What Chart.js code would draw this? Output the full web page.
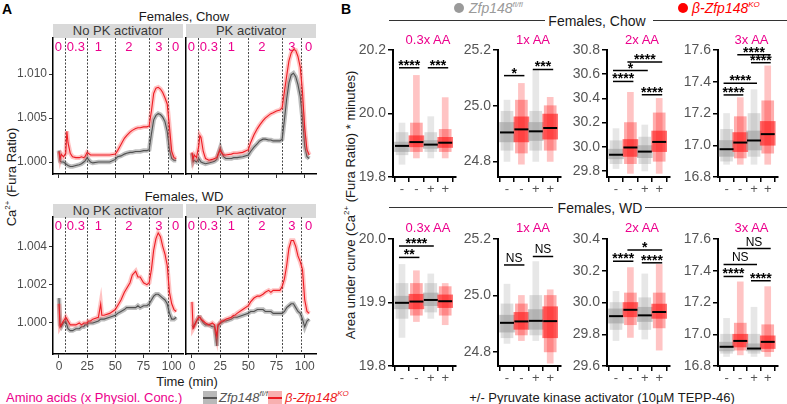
<!DOCTYPE html>
<html><head><meta charset="utf-8">
<script src="https://cdn.jsdelivr.net/npm/chart.js@4.4.1/dist/chart.umd.min.js"></script>
<style>
html,body{margin:0;padding:0;background:#fff}
#root{position:relative;width:787px;height:404px;overflow:hidden;font-family:"Liberation Sans",Arial,Helvetica,sans-serif}
#root canvas{position:absolute}
.t{position:absolute;white-space:nowrap;line-height:1}
.c{transform:translate(-50%,-50%)}
.strip{position:absolute;background:#d9d9d9;color:#3a3a3a;font-size:13px;text-align:center;line-height:14px;height:14px}
.hl{position:absolute;height:0;border-top:1.5px solid #333}
.mag{color:#ec008c}
sup{font-size:8px;vertical-align:6px;line-height:0}
.dot{position:absolute;width:10px;height:10px;border-radius:50%}
.key{position:absolute;width:14px;height:13px}
.key i{position:absolute;left:0;right:0;top:6px;height:1.5px}
</style></head><body><div id="root">
<div class="t" style="left:2px;top:2px;font-size:14px;font-weight:bold">A</div>
<div class="t" style="left:341px;top:2px;font-size:14px;font-weight:bold">B</div>

<div class="t c" style="left:184px;top:16px;font-size:13px;color:#1a1a1a">Females, Chow</div>
<div class="strip" style="left:53px;top:24px;width:130px">No PK activator</div>
<div class="strip" style="left:186px;top:24px;width:130px">PK activator</div>
<div class="t c" style="left:184px;top:196px;font-size:13px;color:#1a1a1a">Females, WD</div>
<div class="strip" style="left:53px;top:204px;width:130px">No PK activator</div>
<div class="strip" style="left:186px;top:204px;width:130px">PK activator</div>
<div class="t c" style="left:11px;top:177px;font-size:13px;color:#1a1a1a;transform:translate(-50%,-50%) rotate(-90deg)">Ca<sup>2+</sup> (Fura Ratio)</div>
<div class="t c" style="left:187px;top:381px;font-size:13px;color:#1a1a1a">Time (min)</div>
<div class="t mag" style="left:6px;top:391px;font-size:13px">Amino acids (x Physiol. Conc.)</div>
<div class="key" style="left:203px;top:391px;background:#b9b9b9"><i style="background:#555"></i></div>
<div class="t" style="left:219px;top:391px;font-size:13px;color:#555;font-style:italic">Zfp148<sup>fl/fl</sup></div>
<div class="key" style="left:268px;top:391px;background:#f8b0b0"><i style="background:#ed1c24"></i></div>
<div class="t" style="left:285px;top:391px;font-size:13px;color:#ed1c24;font-style:italic">β-Zfp148<sup>KO</sup></div>

<div class="dot" style="left:454px;top:3px;background:#9a9a9a"></div>
<div class="t" style="left:469px;top:1px;font-size:14px;color:#9a9a9a;font-style:italic">Zfp148<sup>fl/fl</sup></div>
<div class="dot" style="left:678px;top:3px;background:#f00"></div>
<div class="t" style="left:692px;top:1px;font-size:14px;color:#f00;font-style:italic">β-Zfp148<sup>KO</sup></div>
<div class="hl" style="left:389px;top:20px;width:156px"></div>
<div class="t c" style="left:597px;top:21px;font-size:14px;color:#1a1a1a">Females, Chow</div>
<div class="hl" style="left:653px;top:20px;width:134px"></div>
<div class="hl" style="left:389px;top:207px;width:164px"></div>
<div class="t c" style="left:600px;top:208px;font-size:14px;color:#1a1a1a">Females, WD</div>
<div class="hl" style="left:645px;top:207px;width:142px"></div>
<div class="t c" style="left:350px;top:205px;font-size:13px;color:#1a1a1a;transform:translate(-50%,-50%) rotate(-90deg)">Area under curve (Ca<sup>2+</sup> (Fura Ratio) * minutes)</div>
<div class="t c" style="left:602px;top:397px;font-size:13px;color:#1a1a1a">+/- Pyruvate kinase activator (10µM TEPP-46)</div>
</div>
<script>
// ---------- Panel A data (time in min, Fura ratio) ----------
const tA = [0,1,2,4,6,7,8,10,12,15,18,20,22,23,25,26,28,30,35,37,38,40,45,50,52,55,58,60,63,65,68,70,72,75,78,80,82,84,86,88,90,92,94,96,98,100,102,104];
const chowNoPK_KO = [1.0012,1.0004,1.0009,1.0006,1.0010,1.0035,1.0022,1.0010,1.0006,1.0005,1.0005,1.0006,1.0005,1.0006,1.0011,1.0010,1.0008,1.0008,1.0008,1.0008,1.0008,1.0008,1.0008,1.0009,1.0013,1.0020,1.0027,1.0030,1.0034,1.0036,1.0038,1.0039,1.0039,1.0040,1.0040,1.0041,1.0058,1.0078,1.0084,1.0085,1.0083,1.0079,1.0073,1.0066,1.0040,1.0012,1.0005,1.0004];
const chowNoPK_WT = [1.0013,1.0001,1.0000,1.0000,0.9998,0.9997,0.9996,0.9995,0.9995,0.9996,0.9997,0.9998,1.0000,1.0001,1.0005,1.0003,1.0000,0.9999,1.0000,1.0000,1.0000,1.0000,1.0000,1.0003,1.0006,1.0007,1.0009,1.0010,1.0011,1.0011,1.0012,1.0012,1.0012,1.0013,1.0013,1.0014,1.0032,1.0048,1.0053,1.0055,1.0054,1.0051,1.0046,1.0035,1.0014,1.0004,1.0002,1.0002];
const chowPK_KO = [1.0011,1.0003,1.0008,1.0005,1.0018,1.0030,1.0028,1.0012,1.0004,1.0002,1.0003,1.0004,1.0005,1.0008,1.0014,1.0011,1.0008,1.0008,1.0009,1.0010,1.0010,1.0010,1.0011,1.0014,1.0022,1.0031,1.0038,1.0042,1.0047,1.0050,1.0053,1.0055,1.0056,1.0058,1.0059,1.0062,1.0080,1.0098,1.0115,1.0124,1.0128,1.0127,1.0120,1.0108,1.0080,1.0038,1.0014,1.0008];
const chowPK_WT = [1.0010,1.0000,1.0002,1.0000,1.0004,1.0002,1.0000,0.9999,0.9998,0.9999,1.0000,1.0001,1.0003,1.0008,1.0016,1.0012,1.0006,1.0004,1.0004,1.0005,1.0005,1.0005,1.0006,1.0008,1.0012,1.0017,1.0021,1.0024,1.0026,1.0026,1.0025,1.0025,1.0024,1.0024,1.0024,1.0026,1.0048,1.0072,1.0090,1.0099,1.0101,1.0097,1.0088,1.0075,1.0050,1.0018,1.0006,1.0004];
const wdNoPK_KO = [1.0010,0.9998,0.9999,1.0001,1.0003,1.0002,1.0001,0.9999,0.9999,0.9999,1.0000,0.9999,1.0000,1.0000,1.0000,1.0001,1.0001,1.0002,1.0003,1.0010,1.0004,1.0004,1.0005,1.0007,1.0009,1.0012,1.0016,1.0018,1.0021,1.0025,1.0027,1.0024,1.0024,1.0021,1.0020,1.0021,1.0028,1.0038,1.0044,1.0047,1.0045,1.0040,1.0036,1.0030,1.0016,1.0010,1.0007,1.0006];
const wdNoPK_WT = [1.0013,0.9999,0.9998,1.0000,1.0001,0.9999,0.9997,0.9996,0.9996,0.9997,0.9997,0.9998,0.9998,0.9999,0.9999,1.0000,1.0000,1.0000,1.0001,1.0002,1.0002,1.0002,1.0003,1.0004,1.0005,1.0006,1.0007,1.0008,1.0008,1.0008,1.0008,1.0009,1.0008,1.0009,1.0009,1.0010,1.0012,1.0014,1.0015,1.0015,1.0014,1.0013,1.0012,1.0010,1.0005,1.0002,1.0002,1.0003];
const wdPK_KO = [1.0011,0.9997,0.9998,1.0001,1.0003,1.0003,1.0002,1.0001,1.0000,0.9999,1.0000,0.9999,0.9993,0.9999,1.0000,1.0001,1.0001,1.0002,1.0003,1.0004,1.0004,1.0005,1.0007,1.0009,1.0011,1.0013,1.0014,1.0014,1.0015,1.0016,1.0017,1.0016,1.0017,1.0017,1.0017,1.0019,1.0023,1.0030,1.0039,1.0043,1.0043,1.0040,1.0035,1.0032,1.0028,1.0012,1.0006,1.0005];
const wdPK_WT = [0.9998,0.9998,0.9999,1.0001,1.0003,1.0003,1.0002,1.0000,0.9999,0.9999,0.9998,0.9998,0.9988,0.9998,1.0000,1.0000,1.0001,1.0001,1.0002,1.0003,1.0003,1.0003,1.0004,1.0005,1.0006,1.0006,1.0007,1.0007,1.0007,1.0006,1.0006,1.0006,1.0005,1.0005,1.0005,1.0005,1.0006,1.0008,1.0009,1.0010,1.0010,1.0008,1.0006,1.0005,1.0002,0.9998,1.0001,1.0002];
const aTicksX = [0,25,50,75,100];
const aTicksYChow = [1.000,1.005,1.010];
const aTicksYWD = [1.000,1.002,1.004];
const aRangeX = [-5.3,110];
const aRangeChow = [0.99864,1.0141];
const aRangeWD = [0.99838,1.00553];
const aaSwitchTimes = [5,25,50,80,97];
const aaLabelTimes = [-0.6,15,35,62,88.5,103.5];
const aaLabels = ['0','0.3','1','2','3','0'];

// ---------- Panel B data (AUC) ----------
const bTitles = ['0.3x AA','1x AA','2x AA','3x AA'];
const bGroupTicks = ['-','-','+','+'];
const bGroupIsKO = [false,true,false,true];
const bChowRange = [[19.8,20.2],[24.744,25.2],[29.75,30.8],[16.8,17.6]];
const bWDRange = [[19.8,20.0],[24.75,25.2],[29.6,30.4],[16.8,17.6]];
const bChowTicks = [[19.8,20.0,20.2],[24.8,25.0,25.2],[29.8,30.0,30.2,30.4,30.6,30.8],[16.8,17.0,17.2,17.4,17.6]];
const bWDTicks = [[19.8,19.9,20.0],[24.8,25.0,25.2],[29.6,29.8,30.0,30.2,30.4],[16.8,17.0,17.2,17.4,17.6]];
const bChowMedian = [[19.898,19.910,19.902,19.908],[24.904,24.915,24.908,24.920],[29.934,29.994,29.960,30.040],[16.975,17.017,17.030,17.070]];
const bWDMedian = [[19.8995,19.9015,19.904,19.902],[24.903,24.908,24.910,24.909],[29.914,29.954,29.919,29.940],[16.921,16.958,16.910,16.952]];
// spread of each swarm: min, 10th pct, 25th pct, 75th pct, 90th pct, max
const bChowMin = [[19.84,19.86,19.86,19.86],[24.80,24.79,24.80,24.80],[29.82,29.78,29.80,29.78],[16.88,16.88,16.88,16.88]];
const bChowP10 = [[19.87,19.88,19.88,19.88],[24.84,24.83,24.84,24.84],[29.86,29.86,29.86,29.88],[16.90,16.92,16.93,16.95]];
const bChowQ1 = [[19.88,19.895,19.89,19.893],[24.87,24.87,24.875,24.88],[29.90,29.92,29.91,29.96],[16.93,16.96,16.97,17.00]];
const bChowQ3 = [[19.91,19.93,19.915,19.925],[24.94,24.96,24.94,24.97],[29.98,30.06,30.01,30.13],[17.03,17.08,17.09,17.15]];
const bChowP90 = [[19.94,19.97,19.94,19.95],[24.98,25.02,24.98,25.00],[30.05,30.20,30.08,30.28],[17.10,17.18,17.20,17.28]];
const bChowMax = [[19.97,20.12,19.99,20.05],[25.02,25.08,25.13,25.03],[30.15,30.45,30.18,30.40],[17.20,17.30,17.35,17.50]];
const bWDMin = [[19.845,19.87,19.875,19.865],[24.83,24.84,24.84,24.76],[29.76,29.78,29.77,29.70],[16.86,16.87,16.86,16.86]];
const bWDP10 = [[19.875,19.88,19.885,19.88],[24.85,24.86,24.86,24.80],[29.83,29.86,29.83,29.84],[16.88,16.90,16.88,16.89]];
const bWDQ1 = [[19.89,19.89,19.895,19.892],[24.87,24.88,24.88,24.85],[29.87,29.91,29.88,29.90],[16.895,16.92,16.895,16.91]];
const bWDQ3 = [[19.91,19.913,19.915,19.912],[24.93,24.94,24.95,24.96],[29.96,30.00,29.97,29.99],[16.95,17.00,16.94,16.99]];
const bWDP90 = [[19.93,19.93,19.93,19.925],[24.97,24.97,25.00,25.00],[30.00,30.06,30.03,30.06],[17.00,17.07,17.00,17.06]];
const bWDMax = [[19.96,19.95,19.945,19.93],[25.04,25.00,25.12,25.02],[30.07,30.22,30.18,30.24],[17.10,17.33,17.17,17.30]];
// significance: [group a, group b, level, label]
const bChowSig = [[[0,1,20.144,'****'],[2,3,20.144,'***']],[[0,1,25.108,'*'],[2,3,25.13,'***']],[[0,1,30.54,'****'],[0,2,30.63,'*'],[1,3,30.70,'****'],[2,3,30.43,'****']],[[0,1,17.317,'****'],[0,2,17.39,'****'],[1,3,17.57,'****'],[2,3,17.52,'****']]];
const bWDSig = [[[0,2,19.989,'****'],[0,1,19.971,'**']],[[0,1,25.108,'NS'],[2,3,25.138,'NS']],[[0,1,30.26,'****'],[1,3,30.33,'*'],[2,3,30.25,'****']],[[0,1,17.364,'****'],[0,2,17.44,'NS'],[1,3,17.54,'NS'],[2,3,17.337,'****']]];

// ---------- drawing ----------
const FONT = '"Liberation Sans", Arial, sans-serif';
Chart.defaults.font.family = FONT;
const root = document.getElementById('root');
function mkCanvas(l,t,w,h){const c=document.createElement('canvas');c.width=w;c.height=h;c.style.left=l+'px';c.style.top=t+'px';c.style.width=w+'px';c.style.height=h+'px';root.appendChild(c);return c;}
const MAG = '#ec008c';

const aaPlugin = {id:'aa', beforeDatasetsDraw(chart){
  const {ctx, chartArea:a, scales:{x}} = chart;
  ctx.save();
  ctx.strokeStyle='#333'; ctx.lineWidth=0.9; ctx.setLineDash([2,1.5]);
  aaSwitchTimes.forEach(t=>{const px=Math.round(x.getPixelForValue(t))+0.5;ctx.beginPath();ctx.moveTo(px,a.top);ctx.lineTo(px,a.bottom);ctx.stroke();});
  ctx.setLineDash([]);
  ctx.fillStyle=MAG; ctx.font='13px '+FONT; ctx.textAlign='center'; ctx.textBaseline='middle';
  aaLabels.forEach((s,i)=>ctx.fillText(s, x.getPixelForValue(aaLabelTimes[i]), a.top+9));
  ctx.restore();
}};

function aChart(area, ko, wt, range, yTicks, showY, showX){
  const yw = showY?45:2, pt=4, pr=4, xh = showX?20:8;
  const c = mkCanvas(area[0]-yw, area[1]-pt, yw+area[2]-area[0]+pr, pt+area[3]-area[1]+xh);
  const pts = arr => tA.map((t,i)=>({x:t,y:arr[i]}));
  new Chart(c,{type:'line',data:{datasets:[
      {data:pts(ko),borderColor:'#ed1c24',borderWidth:1.1,order:0},
      {data:pts(ko),borderColor:'rgba(255,80,80,0.35)',borderWidth:4.5,order:1},
      {data:pts(wt),borderColor:'#505050',borderWidth:1.1,order:2},
      {data:pts(wt),borderColor:'rgba(90,90,90,0.4)',borderWidth:4.5,order:3}]},
    options:{responsive:false,animation:false,events:[],elements:{point:{radius:0},line:{tension:0}},
      layout:{padding:{top:pt,right:pr,left:0,bottom:0}},
      plugins:{legend:{display:false},tooltip:{enabled:false}},
      scales:{
        x:{type:'linear',min:aRangeX[0],max:aRangeX[1],
          afterBuildTicks:s=>{s.ticks=aTicksX.map(v=>({value:v}));},
          ticks:{display:showX,autoSkip:false,maxRotation:0,padding:1,color:'#4d4d4d',font:{size:12}},
          grid:{drawOnChartArea:false,tickLength:4,color:'#333',lineWidth:1},
          border:{color:'#000',width:1.5},
          afterFit:s=>{s.height=xh;s.paddingLeft=0;s.paddingRight=0;}},
        y:{min:range[0],max:range[1],
          afterBuildTicks:s=>{s.ticks=yTicks.map(v=>({value:v}));},
          ticks:{display:showY,autoSkip:false,padding:2,color:'#4d4d4d',font:{size:12},callback:v=>Number(v).toFixed(3)},
          grid:{drawOnChartArea:false,drawTicks:showY,tickLength:4,color:'#333',lineWidth:1},
          border:{color:'#000',width:1.5},
          afterFit:s=>{s.width=yw;s.paddingTop=0;s.paddingBottom=0;}}
      }},
    plugins:[aaPlugin]});
}
aChart([53,38,183,174], chowNoPK_KO, chowNoPK_WT, aRangeChow, aTicksYChow, true, false);
aChart([186,38,316,174], chowPK_KO, chowPK_WT, aRangeChow, aTicksYChow, false, false);
aChart([53,217,183,354], wdNoPK_KO, wdNoPK_WT, aRangeWD, aTicksYWD, true, true);
aChart([186,217,316,354], wdPK_KO, wdPK_WT, aRangeWD, aTicksYWD, false, true);

const sigPlugin = {id:'sig', afterDatasetsDraw(chart, args, opts){
  const {ctx, scales:{x,y}} = chart;
  ctx.save(); ctx.strokeStyle='#000'; ctx.fillStyle='#000'; ctx.lineWidth=1.5; ctx.textAlign='center';
  (opts.list||[]).forEach(([a,b,v,lab])=>{
    const x1=x.getPixelForValue(a)-3, x2=x.getPixelForValue(b)+3, py=y.getPixelForValue(v);
    ctx.beginPath(); ctx.moveTo(x1,py); ctx.lineTo(x2,py); ctx.stroke();
    if(lab.includes('*')){ctx.font='bold 14px '+FONT; ctx.textBaseline='alphabetic'; ctx.fillText(lab,(x1+x2)/2,py+2);}
    else {ctx.font='12px '+FONT; ctx.textBaseline='alphabetic'; ctx.fillText(lab,(x1+x2)/2,py-3);}
  });
  ctx.restore();
}};

function col(i,a){return bGroupIsKO[i]?`rgba(255,20,20,${a})`:`rgba(160,160,160,${a})`;}
function bChart(axisX, top, bottom, w, range, ticks, med, mn, p10, q1, q3, p90, mx, sig){
  const yw=40, pt=8, pr=2, xh=22;
  const c = mkCanvas(axisX-yw, top-pt, yw+w+pr, pt+bottom-top+xh);
  const idx=[0,1,2,3];
  const bars=(lo,hi,th,a,o)=>({type:'bar',data:idx.map(i=>({x:i,y:[lo[i],hi[i]]})),backgroundColor:idx.map(i=>col(i,a)),barThickness:th,grouped:false,borderWidth:0,order:o});
  new Chart(c,{type:'bar',data:{datasets:[
      {type:'line',data:idx.map(i=>({x:i,y:med[i]})),showLine:false,pointStyle:'line',pointRadius:7,borderColor:'#000',pointBorderColor:'#000',borderWidth:2,pointBorderWidth:2,order:0},
      bars(q1,q3,15,0.6,1), bars(p10,p90,12,0.35,2), bars(mn,mx,6,0.25,3)]},
    options:{responsive:false,animation:false,events:[],
      layout:{padding:{top:pt,right:pr,left:0,bottom:0}},
      plugins:{legend:{display:false},tooltip:{enabled:false},sig:{list:sig}},
      scales:{
        x:{type:'linear',min:-0.625,max:3.75,offset:false,
          afterBuildTicks:s=>{s.ticks=idx.map(v=>({value:v}));},
          ticks:{autoSkip:false,maxRotation:0,padding:0,color:'#555',font:{size:13},callback:v=>bGroupTicks[v]},
          grid:{drawOnChartArea:false,tickLength:5,color:'#000',lineWidth:1.5},
          border:{color:'#000',width:2},
          afterFit:s=>{s.height=xh;s.paddingLeft=0;s.paddingRight=0;}},
        y:{min:range[0],max:range[1],
          afterBuildTicks:s=>{s.ticks=ticks.map(v=>({value:v}));},
          ticks:{autoSkip:false,padding:2,color:'#555',font:{size:14},callback:v=>Number(v).toFixed(1)},
          grid:{drawOnChartArea:false,tickLength:5,color:'#000',lineWidth:1.5},
          border:{color:'#000',width:2},
          afterFit:s=>{s.width=yw;s.paddingTop=0;s.paddingBottom=0;}}
      }},
    plugins:[sigPlugin]});
  const t=document.createElement('div'); t.className='t c mag'; t.style.fontSize='13px';
  t.style.left=(axisX+w/2)+'px'; t.style.top=(top-10)+'px'; return t;
}
const bAxisX=[393,498,607,718], bW=[70,70,70,67];
for(let k=0;k<4;k++){
  const t1=bChart(bAxisX[k],49,177,bW[k],bChowRange[k],bChowTicks[k],bChowMedian[k],bChowMin[k],bChowP10[k],bChowQ1[k],bChowQ3[k],bChowP90[k],bChowMax[k],bChowSig[k]);
  t1.textContent=bTitles[k]; root.appendChild(t1);
  const t2=bChart(bAxisX[k],238,366,bW[k],bWDRange[k],bWDTicks[k],bWDMedian[k],bWDMin[k],bWDP10[k],bWDQ1[k],bWDQ3[k],bWDP90[k],bWDMax[k],bWDSig[k]);
  t2.textContent=bTitles[k]; t2.style.top='227px'; root.appendChild(t2);
}
</script>
</body></html>
